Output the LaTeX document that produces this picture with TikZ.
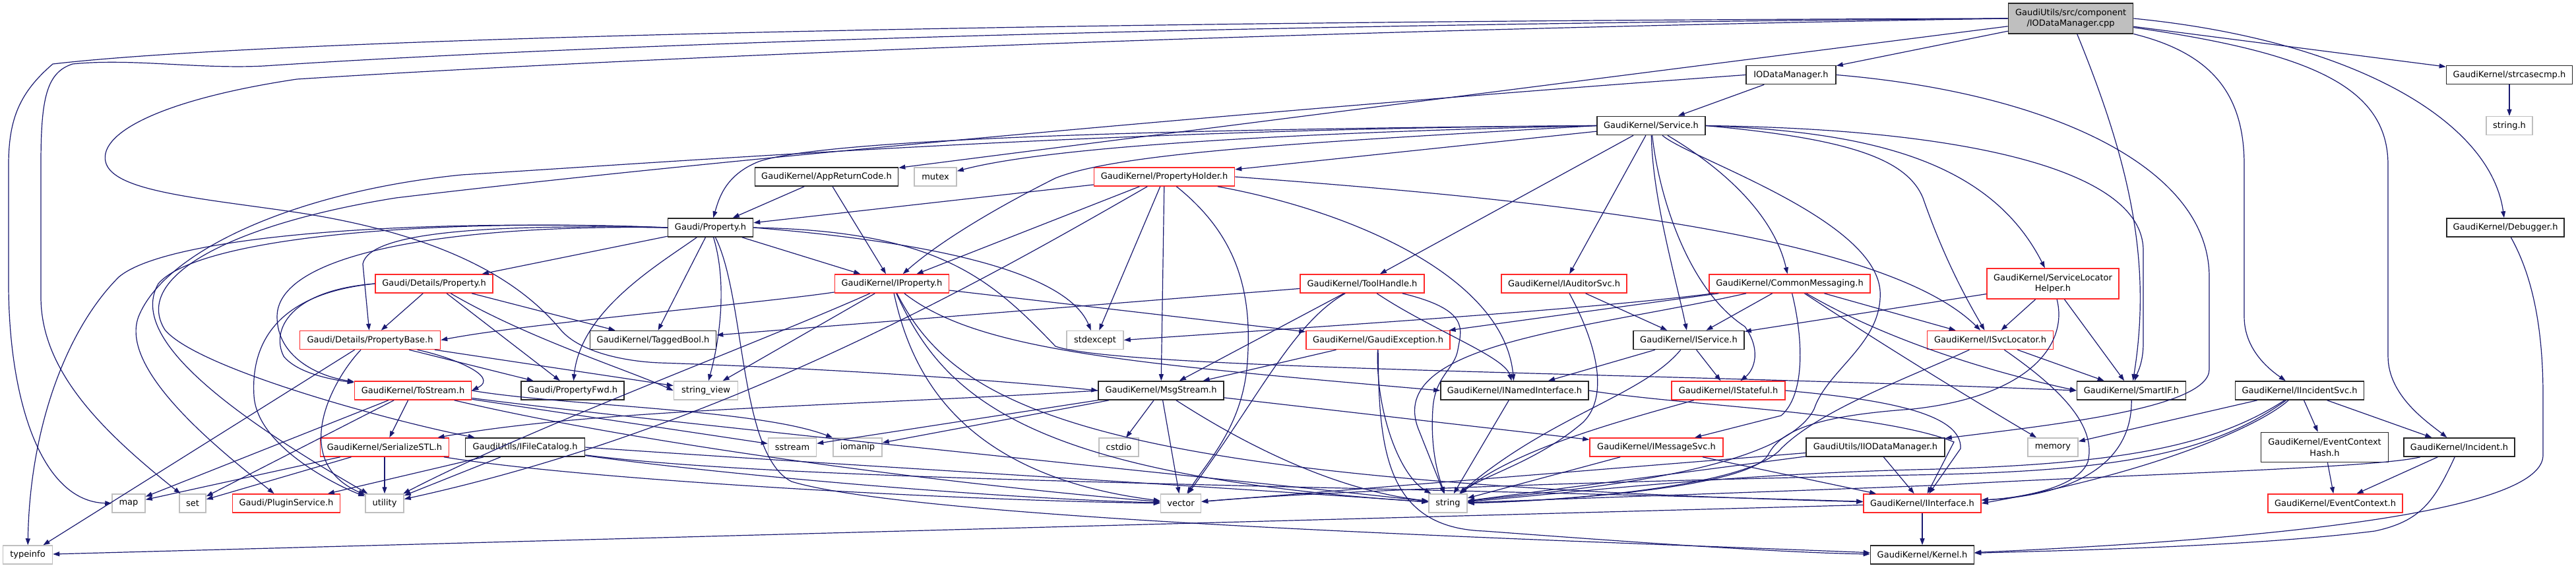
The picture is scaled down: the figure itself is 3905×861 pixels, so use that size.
\documentclass[tikz,border=0pt]{standalone}
\usepackage{fontspec}
\setmainfont{DejaVu Sans}
\usetikzlibrary{arrows.meta}
\definecolor{edgeblue}{RGB}{25,25,112}
\definecolor{truncred}{RGB}{255,40,40}
\definecolor{sysgray}{RGB}{191,191,191}
\begin{document}
\begin{tikzpicture}[x=1pt,y=-1pt,
  box/.style={draw, inner sep=0pt, minimum height=28pt, align=center, font=\fontsize{13}{16.7}\selectfont},
  hdr/.style={box, draw=black!85, line width=1.6pt},
  trunc/.style={box, draw=truncred, line width=1.5pt},
  sys/.style={box, draw=sysgray, line width=1.5pt},
  root/.style={box, draw=black!85, line width=1.6pt, fill=sysgray, minimum height=46pt},
  edge/.style={draw=edgeblue, line width=1.2pt, -{Triangle[length=10pt,width=7pt]}}]
\useasboundingbox (0,0) rectangle (3905,861);
\node[root, minimum width=189pt] (cpp) at (3139,28) {GaudiUtils/src/component\\/IODataManager.cpp};
\node[hdr, minimum width=136pt] (iodm) at (2715,113.5) {IODataManager.h};
\node[hdr, minimum width=191pt] (strc) at (3804,113.5) {GaudiKernel/strcasecmp.h};
\node[sys, minimum width=70pt] (strh) at (3804,190.5) {string.h};
\node[hdr, minimum width=164pt] (svc) at (2503,190.5) {GaudiKernel/Service.h};
\node[hdr, minimum width=217pt] (arc) at (1253,268) {GaudiKernel/AppReturnCode.h};
\node[sys, minimum width=64pt] (mutex) at (1418,268) {mutex};
\node[trunc, minimum width=213pt] (ph) at (1765,268) {GaudiKernel/PropertyHolder.h};
\node[hdr, minimum width=129pt] (prop) at (1077,345) {Gaudi/Property.h};
\node[hdr, minimum width=178pt] (dbg) at (3798,345) {GaudiKernel/Debugger.h};
\node[trunc, minimum width=173pt] (iprop) at (1352,430) {GaudiKernel/IProperty.h};
\node[trunc, minimum width=178pt] (dprop) at (658,430) {Gaudi/Details/Property.h};
\node[trunc, minimum width=188pt] (th) at (2065,430) {GaudiKernel/ToolHandle.h};
\node[trunc, minimum width=190pt] (ias) at (2371,430) {GaudiKernel/IAuditorSvc.h};
\node[trunc, minimum width=244pt] (cm) at (2713,430) {GaudiKernel/CommonMessaging.h};
\node[trunc, minimum width=200pt, minimum height=46pt] (slh) at (3112,430) {GaudiKernel/ServiceLocator\\Helper.h};
\node[hdr, minimum width=191pt] (tb) at (990,515.5) {GaudiKernel/TaggedBool.h};
\node[sys, minimum width=86pt] (stdx) at (1660,515.5) {stdexcept};
\node[trunc, minimum width=213pt] (pbase) at (561,515.5) {Gaudi/Details/PropertyBase.h};
\node[trunc, minimum width=218pt] (gex) at (2089,515.5) {GaudiKernel/GaudiException.h};
\node[hdr, minimum width=168pt] (isvc) at (2560,515.5) {GaudiKernel/IService.h};
\node[trunc, minimum width=191pt] (isl) at (3017,515.5) {GaudiKernel/ISvcLocator.h};
\node[trunc, minimum width=177pt] (tos) at (626,592) {GaudiKernel/ToStream.h};
\node[hdr, minimum width=156pt] (pfwd) at (868,592) {Gaudi/PropertyFwd.h};
\node[sys, minimum width=97pt] (sv) at (1070,592) {string\_view};
\node[hdr, minimum width=190pt] (msg) at (1760,592) {GaudiKernel/MsgStream.h};
\node[hdr, minimum width=224pt] (ini) at (2296,592) {GaudiKernel/INamedInterface.h};
\node[trunc, minimum width=172pt] (ist) at (2620,592) {GaudiKernel/IStateful.h};
\node[hdr, minimum width=165pt] (sif) at (3231,592) {GaudiKernel/SmartIF.h};
\node[hdr, minimum width=195pt] (iis) at (3486,592) {GaudiKernel/IIncidentSvc.h};
\node[trunc, minimum width=195pt] (sstl) at (583,678) {GaudiKernel/SerializeSTL.h};
\node[hdr, minimum width=181pt] (ifc) at (796,678) {GaudiUtils/IFileCatalog.h};
\node[sys, minimum width=73pt] (sstr) at (1201,678) {sstream};
\node[sys, minimum width=74pt] (ioman) at (1300,678) {iomanip};
\node[sys, minimum width=60pt] (cstd) at (1696,678) {cstdio};
\node[trunc, minimum width=202pt] (ims) at (2511,678) {GaudiKernel/IMessageSvc.h};
\node[hdr, minimum width=210pt] (iiodm) at (2843,678) {GaudiUtils/IIODataManager.h};
\node[sys, minimum width=76pt] (mem) at (3112,678) {memory};
\node[hdr, minimum width=193pt, minimum height=45pt] (ech) at (3524,678) {GaudiKernel/EventContext\\Hash.h};
\node[hdr, minimum width=168pt] (inc) at (3728,678) {GaudiKernel/Incident.h};
\node[sys, minimum width=50pt] (map) at (195,763) {map};
\node[sys, minimum width=40pt] (set) at (292,763) {set};
\node[trunc, minimum width=163pt] (plug) at (434,763) {Gaudi/PluginService.h};
\node[sys, minimum width=58pt] (util) at (583,763) {utility};
\node[sys, minimum width=61pt] (vec) at (1790,763) {vector};
\node[sys, minimum width=58pt] (str) at (2195,763) {string};
\node[trunc, minimum width=178pt] (iint) at (2914,763) {GaudiKernel/IInterface.h};
\node[trunc, minimum width=204pt] (ectx) at (3540,763) {GaudiKernel/EventContext.h};
\node[sys, minimum width=75pt] (tinfo) at (42,841) {typeinfo};
\node[hdr, minimum width=157pt] (kern) at (2914,841) {GaudiKernel/Kernel.h};
\draw[edge] (cpp) -- (iodm);
\draw[edge] (cpp) -- (strc);
\draw[edge] (cpp.east) .. controls (3560,60) and (3775,180) .. (dbg);
\draw[edge] (cpp) .. controls (3500,80) and (3620,130) .. (3620,250) -- (3620,540) .. controls (3620,600) and (3680,640) .. (inc);
\draw[edge] (cpp) .. controls (3350,80) and (3402,140) .. (3402,250) -- (3402,480) .. controls (3402,530) and (3440,560) .. (iis);
\draw[edge] (cpp) .. controls (3230,250) and (3262,400) .. (sif);
\draw[edge] (cpp) -- (arc);
\draw[edge] (cpp.west) .. controls (1500,32) and (400,60) .. (80,97) .. controls (30,140) and (13,180) .. (13,250) -- (13,430) .. controls (13,600) and (60,760) .. (map.west);
\draw[edge] (cpp.west) .. controls (1500,40) and (700,80) .. (400,100) .. controls (300,105) and (200,88) .. (110,97) .. controls (70,110) and (62,150) .. (62,250) -- (62,450) .. controls (62,560) and (150,650) .. (set);
\draw[edge] (cpp.west) .. controls (2000,45) and (1000,85) .. (450,120) .. controls (250,150) and (150,200) .. (160,245) .. controls (170,290) and (300,300) .. (450,322) .. controls (700,360) and (800,440) .. (850,500) .. controls (880,535) and (950,548) .. (1000,550) .. controls (1300,560) and (1550,580) .. (msg.west);
\draw[edge] (iodm) -- (svc);
\draw[edge] (iodm.east) .. controls (3100,140) and (3349,250) .. (3349,420) -- (3349,560) .. controls (3349,620) and (3100,645) .. (iiodm);
\draw[edge] (iodm.west) .. controls (2000,160) and (1100,240) .. (600,300) .. controls (350,340) and (200,420) .. (250,500) .. controls (300,560) and (600,640) .. (ifc);
\draw[edge] (strc) -- (strh);
\draw[edge] (dbg) .. controls (3840,420) and (3855,500) .. (3855,600) -- (3855,690) .. controls (3855,770) and (3500,815) .. (kern);
\draw[edge] (svc) .. controls (2620,260) and (2690,330) .. (cm);
\draw[edge] (svc) -- (ias);
\draw[edge] (svc) .. controls (2505,300) and (2540,420) .. (isvc);
\draw[edge] (svc) .. controls (2515,300) and (2560,440) .. (2645,495) .. controls (2670,530) and (2660,560) .. (ist);
\draw[edge] (svc) -- (th);
\draw[edge] (svc.west) .. controls (2000,215) and (1700,230) .. (1600,270) .. controls (1500,320) and (1420,370) .. (iprop);
\draw[edge] (svc) -- (ph);
\draw[edge] (svc.west) .. controls (2000,200) and (1600,220) .. (mutex);
\draw[edge] (svc.west) .. controls (1800,195) and (1250,210) .. (1150,245) .. controls (1100,265) and (1090,300) .. (prop);
\draw[edge] (svc.west) .. controls (1700,195) and (1100,240) .. (700,265) .. controls (450,290) and (250,380) .. (210,480) .. controls (180,560) and (330,680) .. (plug);
\draw[edge] (svc.east) .. controls (2800,210) and (2890,240) .. (2915,300) .. controls (2950,400) and (2985,460) .. (isl);
\draw[edge] (svc.east) .. controls (2850,200) and (3020,250) .. (slh);
\draw[edge] (svc.east) .. controls (2950,195) and (3249,250) .. (3249,380) -- (3249,520) .. controls (3249,550) and (3240,565) .. (sif);
\draw[edge] (svc) .. controls (2560,240) and (2840,330) .. (2850,440) .. controls (2855,520) and (2770,560) .. (2750,620) .. controls (2700,720) and (2350,745) .. (str);
\draw[edge] (arc) -- (prop);
\draw[edge] (arc) -- (iprop);
\draw[edge] (ph) -- (prop);
\draw[edge] (ph) -- (iprop);
\draw[edge] (ph) .. controls (1500,420) and (1100,650) .. (util);
\draw[edge] (ph) -- (stdx);
\draw[edge] (ph) -- (msg);
\draw[edge] (ph) .. controls (1880,360) and (1900,450) .. (1890,560) .. controls (1880,650) and (1830,700) .. (vec);
\draw[edge] (ph) .. controls (2050,320) and (2280,420) .. (ini);
\draw[edge] (ph.east) .. controls (2300,300) and (2850,350) .. (isl);
\draw[edge] (prop) -- (dprop);
\draw[edge] (prop.west) .. controls (750,340) and (560,350) .. (550,400) -- (pbase);
\draw[edge] (prop) .. controls (1000,400) and (880,470) .. (pfwd);
\draw[edge] (prop) -- (iprop);
\draw[edge] (prop) -- (tb);
\draw[edge] (prop) .. controls (1100,420) and (1095,500) .. (sv);
\draw[edge] (prop) .. controls (1130,450) and (1120,690) .. (1200,730) .. controls (1400,790) and (2400,820) .. (kern);
\draw[edge] (prop.east) .. controls (1450,370) and (1620,420) .. (stdx);
\draw[edge] (prop.east) .. controls (1420,350) and (1500,420) .. (1600,525) .. controls (1700,560) and (2500,565) .. (sif.west);
\draw[edge] (prop.west) .. controls (700,340) and (420,380) .. (420,480) .. controls (420,540) and (480,570) .. (tos);
\draw[edge] (prop.west) .. controls (600,330) and (250,360) .. (180,420) .. controls (100,500) and (45,650) .. (tinfo);
\draw[edge] (prop.west) .. controls (650,330) and (300,360) .. (240,430) .. controls (200,500) and (300,600) .. (util);
\draw[edge] (iprop) .. controls (1150,460) and (800,490) .. (pbase.east);
\draw[edge] (iprop) -- (sv);
\draw[edge] (iprop) .. controls (1150,520) and (800,650) .. (util);
\draw[edge] (iprop) .. controls (1380,560) and (1450,720) .. (vec);
\draw[edge] (iprop) .. controls (1430,600) and (1550,720) .. (str);
\draw[edge] (iprop) .. controls (1450,620) and (1650,730) .. (iint);
\draw[edge] (iprop) .. controls (1480,530) and (1700,550) .. (ini.west);
\draw[edge] (iprop) -- (gex);
\draw[edge] (dprop) -- (pbase);
\draw[edge] (dprop) -- (tb);
\draw[edge] (dprop) -- (pfwd);
\draw[edge] (dprop.west) .. controls (440,440) and (410,500) .. (430,540) .. controls (450,565) and (500,575) .. (tos);
\draw[edge] (dprop.west) .. controls (420,445) and (380,520) .. (385,600) .. controls (390,680) and (520,740) .. (util);
\draw[edge] (dprop) .. controls (800,513) and (950,560) .. (sv.west);
\draw[edge] (pbase) .. controls (680,540) and (760,570) .. (tos.east);
\draw[edge] (pbase) -- (pfwd);
\draw[edge] (pbase) -- (sv);
\draw[edge] (pbase) -- (tinfo);
\draw[edge] (pbase) .. controls (500,580) and (440,700) .. (util);
\draw[edge] (th) -- (tb);
\draw[edge] (th) -- (msg);
\draw[edge] (th) .. controls (2170,500) and (2280,540) .. (ini);
\draw[edge] (th) .. controls (2230,470) and (2215,500) .. (2210,530) .. controls (2205,560) and (2175,570) .. (2172,620) .. controls (2168,680) and (2180,720) .. (str);
\draw[edge] (th) .. controls (1960,490) and (1910,600) .. (vec);
\draw[edge] (ias) -- (isvc);
\draw[edge] (ias) .. controls (2420,520) and (2440,600) .. (2400,640) .. controls (2330,700) and (2250,720) .. (str);
\draw[edge] (cm) -- (gex);
\draw[edge] (cm) .. controls (2400,470) and (2000,495) .. (stdx.east);
\draw[edge] (cm) .. controls (2400,500) and (2100,520) .. (2150,650) -- (str);
\draw[edge] (cm) -- (isvc);
\draw[edge] (cm) .. controls (2735,520) and (2735,600) .. (2700,630) -- (ims);
\draw[edge] (cm) .. controls (2850,520) and (2980,600) .. (mem);
\draw[edge] (cm) .. controls (2850,510) and (3000,560) .. (sif.west);
\draw[edge] (cm) -- (isl);
\draw[edge] (slh) -- (isl);
\draw[edge] (slh) -- (sif);
\draw[edge] (slh) -- (isvc);
\draw[edge] (slh) .. controls (3135,520) and (3080,600) .. (2900,620) .. controls (2760,630) and (2700,650) .. (2680,690) .. controls (2650,740) and (2350,760) .. (str);
\draw[edge] (gex) -- (msg);
\draw[edge] (gex) .. controls (2085,620) and (2120,720) .. (str);
\draw[edge] (gex) .. controls (2090,680) and (2100,800) .. (2250,805) .. controls (2450,820) and (2700,838) .. (kern);
\draw[edge] (isvc) -- (ini);
\draw[edge] (isvc) -- (ist);
\draw[edge] (isvc) .. controls (2490,600) and (2350,630) .. (str);
\draw[edge] (isl) -- (sif);
\draw[edge] (isl) .. controls (3110,580) and (3180,640) .. (3165,700) .. controls (3150,740) and (3060,755) .. (iint);
\draw[edge] (isl) .. controls (2900,570) and (2760,620) .. (2700,680) .. controls (2650,740) and (2350,760) .. (str);
\draw[edge] (ini) -- (str);
\draw[edge] (ini.east) .. controls (2550,615) and (2850,625) .. (2962,670) -- (iint);
\draw[edge] (ist.east) .. controls (2850,605) and (2975,625) .. (2972,680) -- (iint);
\draw[edge] (ist) .. controls (2450,640) and (2300,680) .. (str);
\draw[edge] (sif) .. controls (3232,700) and (3150,750) .. (iint);
\draw[edge] (iis) -- (mem);
\draw[edge] (iis) -- (ech);
\draw[edge] (iis) -- (inc);
\draw[edge] (iis) .. controls (3420,650) and (3250,720) .. (iint.east);
\draw[edge] (iis) .. controls (3350,680) and (3200,705) .. (2900,712) .. controls (2600,720) and (2350,750) .. (str);
\draw[edge] (iis) .. controls (3350,690) and (3200,715) .. (2900,720) .. controls (2400,730) and (2000,745) .. (vec);
\draw[edge] (inc) -- (ectx);
\draw[edge] (inc) .. controls (3690,760) and (3670,790) .. (3600,805) .. controls (3400,830) and (3100,835) .. (kern);
\draw[edge] (inc) .. controls (3600,710) and (3200,720) .. (2950,735) .. controls (2700,745) and (2400,755) .. (str);
\draw[edge] (ech) -- (ectx);
\draw[edge] (iiodm) -- (iint);
\draw[edge] (iiodm) -- (str);
\draw[edge] (iiodm) -- (vec);
\draw[edge] (ims) -- (str);
\draw[edge] (ims) -- (iint);
\draw[edge] (msg) -- (ims);
\draw[edge] (msg) -- (cstd);
\draw[edge] (msg) -- (vec);
\draw[edge] (msg) -- (sstr);
\draw[edge] (msg) -- (ioman);
\draw[edge] (msg.west) .. controls (1300,615) and (900,620) .. (sstl);
\draw[edge] (msg) .. controls (1850,650) and (2000,740) .. (str);
\draw[edge] (tos) -- (map);
\draw[edge] (tos) -- (set);
\draw[edge] (tos) -- (sstl);
\draw[edge] (tos) -- (sstr);
\draw[edge] (tos.east) .. controls (850,615) and (1150,620) .. (ioman);
\draw[edge] (tos) .. controls (1000,640) and (1800,720) .. (str);
\draw[edge] (tos) .. controls (1000,680) and (1500,740) .. (vec);
\draw[edge] (sstl) -- (map);
\draw[edge] (sstl) -- (set);
\draw[edge] (sstl) -- (util);
\draw[edge] (sstl) .. controls (900,730) and (1500,760) .. (vec);
\draw[edge] (ifc) -- (plug);
\draw[edge] (ifc) -- (util);
\draw[edge] (ifc.east) .. controls (1200,700) and (1800,735) .. (str);
\draw[edge] (ifc) .. controls (1100,720) and (1500,755) .. (vec);
\draw[edge] (ifc) .. controls (1200,730) and (2000,735) .. (iint);
\draw[edge] (iint) -- (kern);
\draw[edge] (iint) -- (tinfo);
\end{tikzpicture}
\end{document}
